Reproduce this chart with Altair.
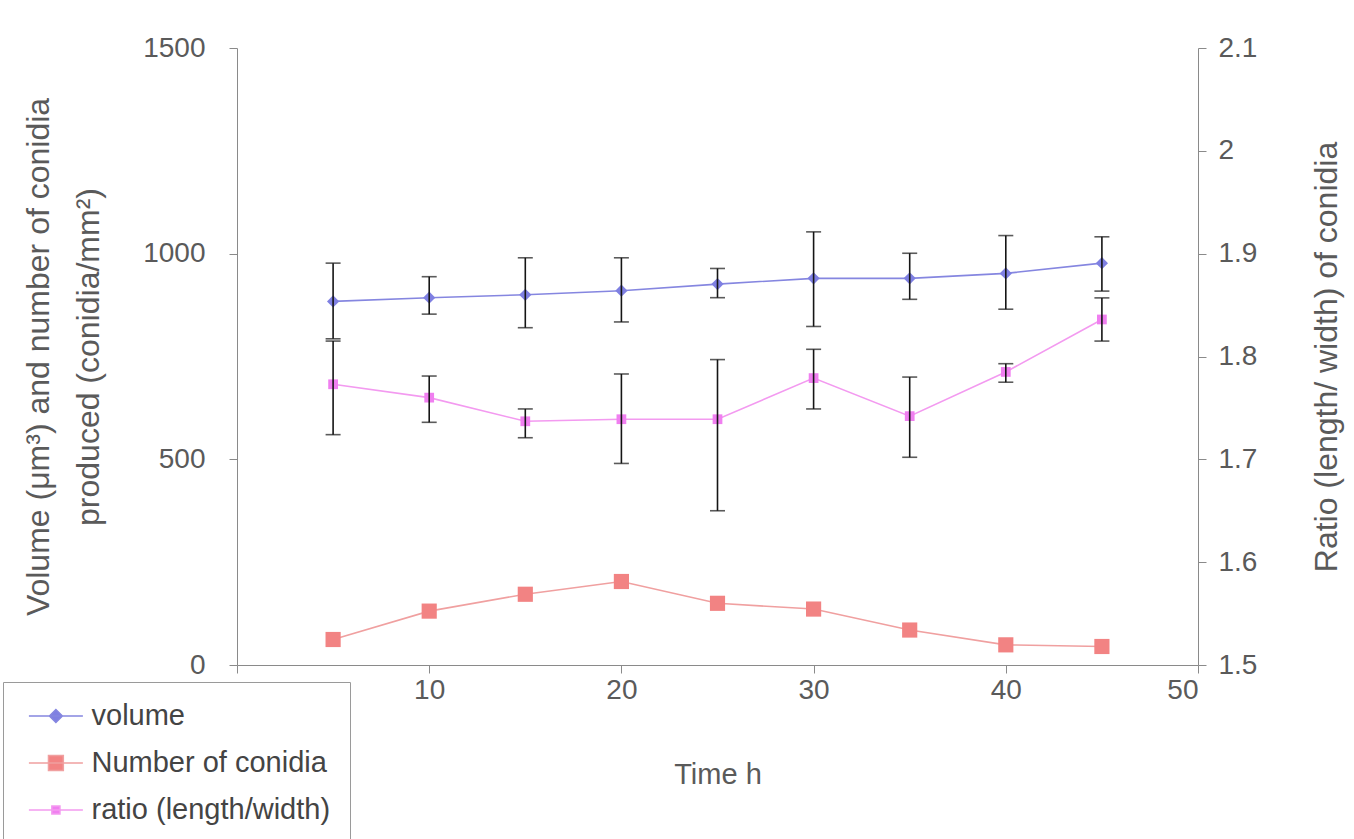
import altair as alt
import pandas as pd

# ---- data ----
time_h = [5, 10, 15, 20, 25, 30, 35, 40, 45]
volume = [884, 893, 900, 910, 926, 940, 940, 952, 977]
volume_hi = [977, 944, 990, 990, 964, 1053, 1001, 1044, 1041]
volume_lo = [793, 853, 820, 834, 893, 823, 889, 865, 909]
conidia = [62, 131, 172, 203, 150, 136, 85, 49, 45]
ratio = [1.773, 1.760, 1.737, 1.739, 1.739, 1.779, 1.742, 1.785, 1.836]
ratio_hi = [1.815, 1.781, 1.749, 1.783, 1.797, 1.807, 1.780, 1.793, 1.857]
ratio_lo = [1.724, 1.736, 1.721, 1.696, 1.650, 1.749, 1.702, 1.775, 1.815]

series_names = ["volume", "Number of conidia", "ratio (length/width)"]
series_colors = ["#7f80e2", "#f28383", "#f07ff0"]
line_colors = ["#8586e0", "#f0a0a0", "#f39af0"]

x_ticks = [0, 10, 20, 30, 40, 50]
left_ticks = [0, 500, 1000, 1500]
right_ticks = [1.5, 1.6, 1.7, 1.8, 1.9, 2.0, 2.1]

df = pd.DataFrame({
    "time": time_h,
    "volume": volume,
    "vlo": volume_lo,
    "vhi": volume_hi,
    "conidia": conidia,
    "ratio": ratio,
    "rlo": ratio_lo,
    "rhi": ratio_hi,
})

FONT = "Liberation Sans"
base = alt.Chart(df)

x_enc = alt.X("time:Q", scale=alt.Scale(domain=[0, 50], nice=False),
              axis=alt.Axis(values=x_ticks, title="Time h", tickSize=8, labelPadding=3,
                            titlePadding=56, grid=False, titleFontSize=29,
                            labelExpr="datum.value == 0 ? '' : datum.label"))

left_title = ["Volume (\u03bcm\u00b3) and number of conidia", "produced (conidia/mm\u00b2)"]
left_scale = alt.Scale(domain=[0, 1500], nice=False)
left_axis = alt.Axis(values=left_ticks, tickSize=8, labelPadding=24, grid=False, format="d",
                     titlePadding=37, titleLineHeight=50, titleFontSize=32)


def ly(field):
    return alt.Y(f"{field}:Q", scale=left_scale, axis=left_axis, title=left_title)


right_title = "Ratio (length/ width) of conidia"
right_scale = alt.Scale(domain=[1.5, 2.1], nice=False)
right_axis = alt.Axis(values=right_ticks, orient="right", tickSize=8, labelPadding=12,
                      grid=False, titlePadding=55, titleAngle=270, titleBaseline="top",
                      titleFontSize=32, format=".1~f")


def ry(field):
    return alt.Y(f"{field}:Q", scale=right_scale, axis=right_axis, title=right_title)


err_color = "#151515"

vol_line = base.mark_line(color=line_colors[0], strokeWidth=1.6).encode(x=x_enc, y=ly("volume"))
vol_pts = base.mark_point(shape="diamond", filled=True, size=150, opacity=1,
                          color=series_colors[0]).encode(x=x_enc, y=ly("volume"))
con_line = base.mark_line(color=line_colors[1], strokeWidth=1.6).encode(x=x_enc, y=ly("conidia"))
con_pts = base.mark_point(shape="square", filled=True, size=230, opacity=1,
                          color=series_colors[1]).encode(x=x_enc, y=ly("conidia"))
vol_rule = base.mark_rule(color=err_color, strokeWidth=1.6).encode(
    x=x_enc, y=ly("vlo"), y2="vhi:Q")
vol_cap_lo = base.mark_tick(color=err_color, orient="horizontal", size=15, thickness=1.6).encode(
    x=x_enc, y=ly("vlo"))
vol_cap_hi = base.mark_tick(color=err_color, orient="horizontal", size=15, thickness=1.6).encode(
    x=x_enc, y=ly("vhi"))

left = alt.layer(con_line, con_pts, vol_line, vol_pts, vol_rule, vol_cap_lo, vol_cap_hi)

rat_line = base.mark_line(color=line_colors[2], strokeWidth=1.6).encode(x=x_enc, y=ry("ratio"))
rat_pts = base.mark_point(shape="square", filled=True, size=95, opacity=1,
                          color=series_colors[2]).encode(x=x_enc, y=ry("ratio"))
rat_rule = base.mark_rule(color=err_color, strokeWidth=1.6).encode(
    x=x_enc, y=ry("rlo"), y2="rhi:Q")
rat_cap_lo = base.mark_tick(color=err_color, orient="horizontal", size=15, thickness=1.6).encode(
    x=x_enc, y=ry("rlo"))
rat_cap_hi = base.mark_tick(color=err_color, orient="horizontal", size=15, thickness=1.6).encode(
    x=x_enc, y=ry("rhi"))

right = alt.layer(rat_line, rat_pts, rat_rule, rat_cap_lo, rat_cap_hi)

# legend symbols: a line segment with the series marker
legend_paths = [
    "M-0.6,0H3.4M0.92,0L1.4,-0.48L1.88,0L1.4,0.48Z",
    "M-0.6,0H3.4M0.85,-0.55H1.95V0.55H0.85Z",
    "M-0.6,0H3.4M1.1,-0.3H1.7V0.3H1.1Z",
]

leg_df = pd.DataFrame({"series": series_names})
legend_spec = alt.Legend(
    title=None, orient="none", legendX=-234, legendY=634,
    fillColor="white", strokeColor="#9a9a9a", padding=19.5, cornerRadius=0,
    labelFontSize=29, labelColor="#444444", labelFont=FONT,
    symbolSize=729, symbolStrokeWidth=1.5, rowPadding=17, labelOffset=40,
    labelLimit=500,
)
legend_layer = alt.Chart(leg_df).mark_point(filled=True, opacity=1).encode(
    fill=alt.Fill("series:N", scale=alt.Scale(domain=series_names, range=series_colors),
                  legend=legend_spec, sort=series_names),
    stroke=alt.Stroke("series:N", scale=alt.Scale(domain=series_names, range=line_colors),
                      legend=legend_spec, sort=series_names),
    shape=alt.Shape("series:N", scale=alt.Scale(domain=series_names, range=legend_paths),
                    legend=legend_spec, sort=series_names),
).transform_filter("false")

chart = alt.layer(left, right, legend_layer).resolve_scale(
    y="independent"
).properties(
    width=961, height=617,
    padding={"left": 237, "top": 48, "right": 156, "bottom": 174},
    autosize=alt.AutoSizeParams(type="none"),
    background="white",
).configure_view(stroke=None).configure_axis(
    domainColor="#8a8a8a", tickColor="#8a8a8a", domainWidth=1, tickWidth=1,
    labelColor="#5a5a5a", labelFont=FONT, labelFontSize=28,
    titleColor="#5a5a5a", titleFont=FONT, titleFontSize=29, titleFontWeight="normal",
)

chart.save("out.html", embed_options={"renderer": "svg", "actions": False})
